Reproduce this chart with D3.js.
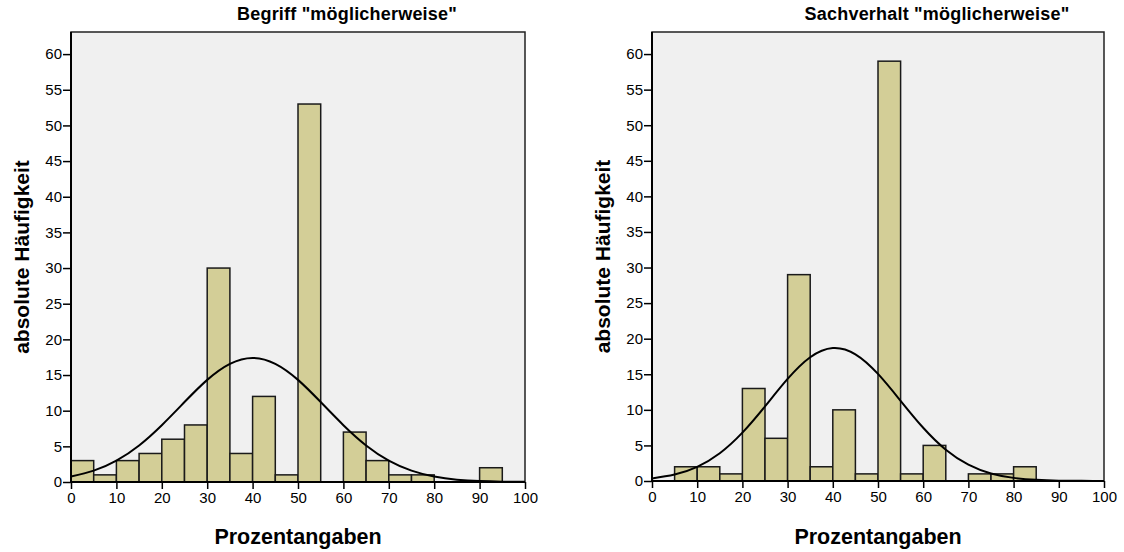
<!DOCTYPE html>
<html>
<head>
<meta charset="utf-8">
<script src="https://cdn.jsdelivr.net/npm/d3@7"></script>
<style>
  body { margin: 0; background: #fff; }
  svg { display: block; font-family: "Liberation Sans", Arial, sans-serif; }
  .tick text { font-size: 15px; fill: #000; }
  .tick line { stroke: #000; stroke-width: 1.5px; }
  .domain { display: none; }
</style>
</head>
<body>
<div class="Content"></div>
<script>
// bin edges (5er Klassen) und Häufigkeiten
var binStarts = [0,5,10,15,20,25,30,35,40,45,50,55,60,65,70,75,80,85,90,95];
var begriffCounts     = [3,1,3,4,6,8,30,4,12,1,53,0,7,3,1,1,0,0,2,0];
var sachverhaltCounts = [0,2,2,1,13,6,29,2,10,1,59,1,5,0,1,1,2,0,0,0];

var curveX = [0,5,10,15,20,25,30,35,40,45,50,55,60,65,70,75,80,85,90,95,100];
var begriffCurve     = [0.76,1.59,3.0,5.13,7.97,11.21,14.32,16.57,17.4,16.57,14.32,11.21,7.97,5.13,3.0,1.59,0.76,0.33,0.13,0.05,0.02];
var sachverhaltCurve = [0.36,0.9,1.99,3.9,6.79,10.48,14.34,17.39,18.69,17.81,15.05,11.27,7.48,4.4,2.3,1.06,0.44,0.16,0.05,0.02,0.0];

var xTicks = [0,10,20,30,40,50,60,70,80,90,100];
var yTicks = [0,5,10,15,20,25,30,35,40,45,50,55,60];

var binWidth = 5;

var svg = d3.select(".Content")
            .append("svg")
            .attr("width", 1124)
            .attr("height", 552);

function drawHist(title, counts, curve, box, titleX){
  var x = d3.scaleLinear().domain([0, 100]).range([box.left, box.right]);
  var y = d3.scaleLinear().domain([0, 63.1]).range([box.bottom, box.top]);

  var g = svg.append("g");

  // plot background
  g.append("rect")
   .attr("x", box.left)
   .attr("y", box.top)
   .attr("width", box.right - box.left)
   .attr("height", box.bottom - box.top)
   .style("fill", "#f0f0f0");

  // bars
  var bins = binStarts.map((s, i) => ({start: s, count: counts[i]}));
  g.append("g")
   .selectAll("rect")
   .data(bins.filter(d => d.count > 0))
   .join("rect")
   .attr("x", d => x(d.start))
   .attr("y", d => y(d.count))
   .attr("width", d => x(d.start + binWidth) - x(d.start))
   .attr("height", d => y(0) - y(d.count))
   .style("fill", "#d3ce97")
   .style("stroke", "#1a1a1a")
   .style("stroke-width", 1.5);

  // normal curve
  var line = d3.line()
    .x((d, i) => x(curveX[i]))
    .y(d => y(d))
    .curve(d3.curveNatural);
  g.append("path")
   .attr("d", line(curve))
   .style("fill", "none")
   .style("stroke", "#000")
   .style("stroke-width", 2);

  // frame
  g.append("rect")
   .attr("x", box.left)
   .attr("y", box.top)
   .attr("width", box.right - box.left)
   .attr("height", box.bottom - box.top)
   .style("fill", "none")
   .style("stroke", "#222")
   .style("stroke-width", 1.5);

  // axes
  g.append("g")
   .attr("transform", "translate(0," + box.bottom + ")")
   .call(d3.axisBottom(x).tickValues(xTicks).tickSize(7).tickPadding(3));

  g.append("g")
   .attr("transform", "translate(" + box.left + ",0)")
   .call(d3.axisLeft(y).tickValues(yTicks).tickSize(8).tickPadding(1));

  // axis lines drawn on top
  g.append("line")
   .attr("x1", box.left).attr("x2", box.right)
   .attr("y1", box.bottom).attr("y2", box.bottom)
   .style("stroke", "#000").style("stroke-width", 2);
  g.append("line")
   .attr("x1", box.left).attr("x2", box.left)
   .attr("y1", box.top).attr("y2", box.bottom)
   .style("stroke", "#000").style("stroke-width", 2);

  // title
  g.append("text")
   .attr("x", titleX)
   .attr("y", 20)
   .style("text-anchor", "middle")
   .style("font-weight", "bold")
   .style("font-size", "18px")
   .style("letter-spacing", "0.2px")
   .text(title);

  // x label
  g.append("text")
   .attr("x", (box.left + box.right) / 2)
   .attr("y", 544)
   .style("text-anchor", "middle")
   .style("font-weight", "bold")
   .style("font-size", "21.5px")
   .text("Prozentangaben");

  // y label
  g.append("text")
   .attr("transform", "rotate(-90)")
   .attr("x", -(box.top + box.bottom) / 2)
   .attr("y", box.left - 42)
   .style("text-anchor", "middle")
   .style("font-weight", "bold")
   .style("font-size", "21px")
   .text("absolute Häufigkeit");
}

drawHist('Begriff "möglicherweise"', begriffCounts, begriffCurve,
         {left: 71, right: 525, top: 32, bottom: 482}, 347);
drawHist('Sachverhalt "möglicherweise"', sachverhaltCounts, sachverhaltCurve,
         {left: 652, right: 1104, top: 32, bottom: 481}, 937);
</script>
</body>
</html>
